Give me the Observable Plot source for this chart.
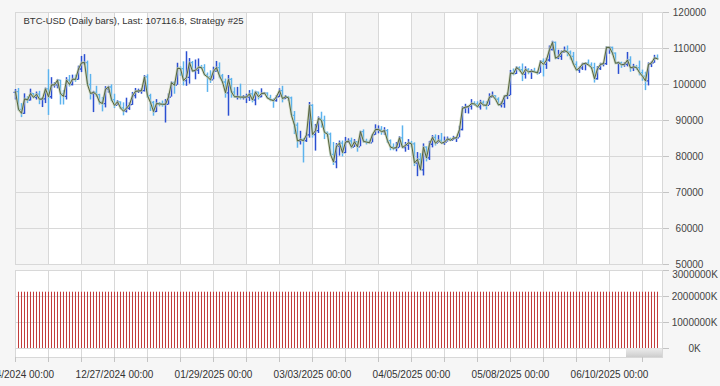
<!DOCTYPE html>
<html><head><meta charset="utf-8">
<script src="https://cdn.jsdelivr.net/npm/d3@7"></script>
<script src="https://cdn.jsdelivr.net/npm/@observablehq/plot@0.6"></script>
<style>
html,body{margin:0;padding:0;background:#f6f6f6;overflow:hidden}
#chart{position:relative;width:720px;height:386px;overflow:hidden;background:#f6f6f6}
#chart svg{position:absolute;left:0;top:0}
</style></head><body><div id="chart"></div>
<script>
const title = "BTC-USD (Daily bars), Last: 107116.8, Strategy #25";
const startDate = "2024-11-24"; // first daily bar
// OHLC in thousands of USD, one value per day from 2024-11-24 to 2025-06-26
const opens = [
 97.8,98.0,93.1,92.0,96.0,95.7,97.5,
 96.4,97.3,95.9,96.0,98.8,96.6,99.9,99.9,101.2,97.4,96.7,101.2,100.0,101.5,101.4,104.3,106.0,106.1,100.0,97.5,97.8,97.2,95.1,94.7,98.7,99.3,95.8,94.2,95.2,93.5,92.6,
 93.4,94.4,96.9,98.1,98.2,98.3,102.1,96.9,95.0,92.5,94.7,94.6,94.5,94.5,96.5,100.5,99.8,104.5,104.4,101.1,102.0,106.1,103.7,104.0,104.8,104.7,102.7,102.1,101.3,103.7,104.7,
 102.4,100.7,97.7,101.4,97.9,96.6,96.6,96.5,96.5,96.5,97.4,95.7,97.9,96.6,97.5,97.6,96.2,95.8,95.5,96.6,98.3,96.1,96.6,96.3,91.4,88.7,84.3,84.7,
 84.4,86.0,94.2,86.1,87.2,90.6,90.0,86.7,86.2,80.6,78.5,82.9,83.7,81.1,84.0,84.3,82.6,84.1,82.7,86.9,84.2,84.0,83.8,86.1,87.5,87.5,86.9,87.2,84.4,82.6,82.3,
 82.5,85.2,82.5,83.1,83.8,83.5,78.2,79.2,76.3,82.6,79.6,83.4,85.3,83.7,84.5,83.7,84.0,84.9,84.5,85.1,85.2,87.5,93.4,93.7,93.9,94.7,94.6,93.8,95.0,94.3,
 94.2,96.5,96.9,95.9,94.3,94.7,96.8,97.0,103.2,103.0,104.7,104.1,102.8,104.2,103.5,103.7,103.5,103.2,106.4,105.6,106.8,109.7,111.7,107.3,107.8,109.0,109.4,109.0,107.8,105.6,104.0,
 104.6,105.7,105.9,105.4,104.7,101.6,104.4,105.6,105.8,110.3,110.3,108.7,105.9,106.1,105.5,105.6,106.8,104.6,104.9,104.7,103.3,102.3,101.0,105.6,106.0,107.4
];
const highs = [
 98.6,98.9,94.7,97.4,96.6,98.7,97.5,
 97.9,98.1,96.3,99.0,104.1,101.9,100.5,101.4,101.2,98.3,101.9,102.5,102.6,102.6,105.1,107.8,108.3,106.5,102.8,98.1,99.5,97.3,96.4,99.4,99.5,99.9,97.3,95.5,95.2,94.9,96.2,
 94.9,97.8,98.9,98.7,98.8,102.5,102.7,97.3,95.3,95.8,95.0,95.4,95.8,97.4,100.7,100.8,105.9,104.9,106.3,109.1,107.2,106.4,106.8,107.1,105.3,105.5,103.2,103.8,104.8,106.4,106.0,
 102.8,101.5,102.5,101.7,99.1,99.2,100.1,96.9,97.3,98.3,98.5,98.1,97.9,98.8,97.7,97.7,97.0,96.0,96.9,98.8,99.5,96.9,96.7,96.5,92.5,89.3,87.0,85.0,
 86.5,95.0,94.4,88.9,91.0,92.3,91.2,86.8,86.5,83.9,83.6,84.3,84.3,85.3,84.9,85.1,84.7,84.1,87.0,87.4,84.8,84.5,86.1,88.8,88.5,88.3,88.0,87.5,84.6,83.5,83.9,
 85.5,88.5,83.9,84.7,84.2,83.8,81.1,80.8,83.5,82.7,84.2,85.8,86.0,85.8,86.4,85.4,85.4,85.1,85.6,85.3,88.4,93.8,94.5,94.0,95.8,95.2,95.2,95.6,95.4,95.2,
 97.4,97.9,96.9,96.3,95.2,96.9,97.6,103.9,104.3,104.9,104.9,105.7,104.9,104.4,104.1,104.5,103.7,106.6,107.1,107.3,110.7,112.0,111.8,109.5,109.3,110.4,110.7,109.3,108.9,106.3,104.9,
 105.9,105.9,106.8,106.0,105.9,105.0,105.9,106.0,110.5,110.4,110.4,108.8,106.2,106.2,106.1,108.9,107.7,105.6,105.3,106.5,104.0,103.4,106.0,106.3,108.1,108.2
];
const lows = [
 95.7,92.6,90.8,91.7,94.7,95.4,96.1,
 95.7,94.4,93.6,94.7,91.4,95.9,99.0,98.8,94.3,94.3,95.7,99.3,99.6,100.6,101.2,103.3,105.3,100.0,95.7,92.2,96.4,94.3,92.4,93.5,97.6,95.2,93.3,94.1,93.0,91.3,92.1,
 92.8,94.2,96.0,97.5,97.3,97.9,96.1,92.5,91.2,92.2,93.8,93.7,89.3,94.3,96.5,97.3,99.8,102.3,99.6,99.5,100.1,103.4,101.3,102.8,104.1,102.5,97.8,100.3,101.3,103.4,101.6,
 100.3,96.2,91.2,96.2,96.2,95.7,95.7,95.7,94.7,95.3,94.9,94.1,95.7,96.3,97.2,96.1,95.2,93.4,95.1,96.4,94.9,95.8,95.3,91.4,86.1,82.3,83.2,78.2,
 83.9,85.1,85.1,81.5,86.4,87.9,84.7,85.3,80.1,77.5,76.6,80.1,79.9,80.8,83.7,82.1,82.5,81.2,82.7,83.7,83.2,83.7,83.8,85.9,86.3,85.9,85.9,83.6,81.6,81.6,81.3,
 82.4,82.3,81.2,81.7,82.4,77.2,74.4,76.2,74.6,78.5,78.9,82.4,82.9,83.7,83.6,83.1,84.0,84.3,84.4,83.9,85.2,87.1,91.9,91.8,92.9,93.9,93.6,92.9,93.8,92.9,
 94.2,96.3,95.7,94.2,93.5,93.4,95.8,96.9,102.4,102.8,103.4,100.8,101.5,102.7,101.4,103.2,102.6,103.1,102.1,104.2,106.2,109.3,106.9,106.9,106.7,108.7,107.7,106.8,105.4,103.7,103.1,
 103.9,103.8,105.2,104.2,100.4,101.2,103.9,104.9,105.3,108.4,108.1,105.7,102.8,104.5,104.8,104.9,103.4,103.6,103.9,102.4,100.9,98.3,99.6,104.7,105.9,106.9
];
const closes = [
 98.0,93.1,92.0,96.0,95.7,97.5,96.4,
 97.3,95.9,96.0,98.8,96.6,99.9,99.9,101.2,97.4,96.7,101.2,100.0,101.5,101.4,104.3,106.0,106.1,100.0,97.5,97.8,97.2,95.1,94.7,98.7,99.3,95.8,94.2,95.2,93.5,92.6,93.4,
 94.4,96.9,98.1,98.2,98.3,102.1,96.9,95.0,92.5,94.7,94.6,94.5,94.5,96.5,100.5,99.8,104.5,104.4,101.1,102.0,106.1,103.7,104.0,104.8,104.7,102.7,102.1,101.3,103.7,104.7,102.4,
 100.7,97.7,101.4,97.9,96.6,96.6,96.5,96.5,96.5,97.4,95.7,97.9,96.6,97.5,97.6,96.2,95.8,95.5,96.6,98.3,96.1,96.6,96.3,91.4,88.7,84.3,84.7,84.4,
 86.0,94.2,86.1,87.2,90.6,90.0,86.7,86.2,80.6,78.5,82.9,83.7,81.1,84.0,84.3,82.6,84.1,82.7,86.9,84.2,84.0,83.8,86.1,87.5,87.5,86.9,87.2,84.4,82.6,82.3,82.5,
 85.2,82.5,83.1,83.8,83.5,78.2,79.2,76.3,82.6,79.6,83.4,85.3,83.7,84.5,83.7,84.0,84.9,84.5,85.1,85.2,87.5,93.4,93.7,93.9,94.7,94.6,93.8,95.0,94.3,94.2,
 96.5,96.9,95.9,94.3,94.7,96.8,97.0,103.2,103.0,104.7,104.1,102.8,104.2,103.5,103.7,103.5,103.2,106.4,105.6,106.8,109.7,111.7,107.3,107.8,109.0,109.4,109.0,107.8,105.6,104.0,104.6,
 105.7,105.9,105.4,104.7,101.6,104.4,105.6,105.8,110.3,110.3,108.7,105.9,106.1,105.5,105.6,106.8,104.6,104.9,104.7,103.3,102.3,101.0,105.6,106.0,107.4,107.1168
];
// volume in K (every bar reads the same height)
const volumeK = [
 2165000,2165000,2165000,2165000,2165000,2165000,2165000,2165000,2165000,2165000,
 2165000,2165000,2165000,2165000,2165000,2165000,2165000,2165000,2165000,2165000,
 2165000,2165000,2165000,2165000,2165000,2165000,2165000,2165000,2165000,2165000,
 2165000,2165000,2165000,2165000,2165000,2165000,2165000,2165000,2165000,2165000,
 2165000,2165000,2165000,2165000,2165000,2165000,2165000,2165000,2165000,2165000,
 2165000,2165000,2165000,2165000,2165000,2165000,2165000,2165000,2165000,2165000,
 2165000,2165000,2165000,2165000,2165000,2165000,2165000,2165000,2165000,2165000,
 2165000,2165000,2165000,2165000,2165000,2165000,2165000,2165000,2165000,2165000,
 2165000,2165000,2165000,2165000,2165000,2165000,2165000,2165000,2165000,2165000,
 2165000,2165000,2165000,2165000,2165000,2165000,2165000,2165000,2165000,2165000,
 2165000,2165000,2165000,2165000,2165000,2165000,2165000,2165000,2165000,2165000,
 2165000,2165000,2165000,2165000,2165000,2165000,2165000,2165000,2165000,2165000,
 2165000,2165000,2165000,2165000,2165000,2165000,2165000,2165000,2165000,2165000,
 2165000,2165000,2165000,2165000,2165000,2165000,2165000,2165000,2165000,2165000,
 2165000,2165000,2165000,2165000,2165000,2165000,2165000,2165000,2165000,2165000,
 2165000,2165000,2165000,2165000,2165000,2165000,2165000,2165000,2165000,2165000,
 2165000,2165000,2165000,2165000,2165000,2165000,2165000,2165000,2165000,2165000,
 2165000,2165000,2165000,2165000,2165000,2165000,2165000,2165000,2165000,2165000,
 2165000,2165000,2165000,2165000,2165000,2165000,2165000,2165000,2165000,2165000,
 2165000,2165000,2165000,2165000,2165000,2165000,2165000,2165000,2165000,2165000,
 2165000,2165000,2165000,2165000,2165000,2165000,2165000,2165000,2165000,2165000,
 2165000,2165000,2165000,2165000,2165000
];
const priceTicks = [50000,60000,70000,80000,90000,100000,110000,120000];
const volumeTicks = [0,1000000,2000000,3000000];
const gridDates = ["2024-11-24","2024-12-05","2024-12-16","2024-12-27","2025-01-07","2025-01-18","2025-01-29","2025-02-09","2025-02-20","2025-03-03","2025-03-14","2025-03-25","2025-04-05","2025-04-16","2025-04-27","2025-05-08","2025-05-19","2025-05-30","2025-06-10","2025-06-21"];
const labelDates = ["2024-11-24","2024-12-27","2025-01-29","2025-03-03","2025-04-05","2025-05-08","2025-06-10"];

const UP = "#2b4fd2", DOWN = "#5cb3ee", VOL = "#c23a3a", GRID = "#d8d8d8", TICK = "#c4c4c4";
const DAY = 864e5, HALF = DAY / 2;
const utc = s => new Date(s + "T00:00:00Z");
const t0 = utc(startDate);
const bars = closes.map((c, i) => ({
  date: new Date(+t0 + i * DAY),
  open: opens[i] * 1000, high: highs[i] * 1000, low: lows[i] * 1000, close: c * 1000,
  vol: volumeK[i]
}));
const grid = gridDates.map(utc);
const shade = grid.filter((d, i) => i % 2 === 0);
const labels = labelDates.map(utc);
const xDomain = [t0, new Date(+t0 + 215.67 * DAY)];
const col = d => d.close >= d.open ? UP : DOWN;
const font = "'Liberation Sans', Arial, sans-serif";
const common = {width: 720, height: 386, marginLeft: 15, marginRight: 58,
  style: {background: "transparent", fontFamily: font, fontSize: "10px"}};

const price = Plot.plot({
  ...common, marginTop: 12, marginBottom: 122,
  x: {type: "utc", domain: xDomain, axis: null},
  y: {domain: [50000, 120000]},
  marks: [
    Plot.frame({fill: "white", stroke: null}),
    Plot.rect(shade, {x1: d => d, x2: d => new Date(+d + 11 * DAY), y1: 50000, y2: 120000, fill: "#f5f5f5"}),
    Plot.gridX(grid, {stroke: GRID, strokeOpacity: 1}),
    Plot.gridY(priceTicks, {stroke: GRID, strokeOpacity: 1}),
    Plot.frame({stroke: GRID}),
    Plot.ruleX(bars, {x: "date", y1: "low", y2: "high", stroke: col, strokeWidth: 1.5}),
    Plot.ruleY(bars, {y: "open", x1: d => new Date(+d.date - HALF), x2: "date", stroke: col, strokeWidth: 1.3}),
    Plot.ruleY(bars, {y: "close", x1: "date", x2: d => new Date(+d.date + HALF), stroke: col, strokeWidth: 1.3}),
    Plot.lineY(bars, {x: "date", y: "close", stroke: "#c3cfac", strokeWidth: 2.6, strokeOpacity: 0.7}),
    Plot.lineY(bars, {x: "date", y: "close", stroke: "#56633d", strokeWidth: 1}),
    Plot.text([title], {frameAnchor: "top-left", dx: 8, dy: 8, lineAnchor: "middle", textAnchor: "start", fill: "#333", fontSize: 9.5}),
    Plot.axisY(priceTicks, {anchor: "right", tickSize: 6, tickPadding: 21, textAnchor: "middle", tickFormat: d => String(d), stroke: TICK, fill: "#444", label: null})
  ]
});

const volume = Plot.plot({
  ...common, marginTop: 270, marginBottom: 29,
  x: {type: "utc", domain: xDomain},
  y: {domain: [-346154, 3000000]},
  marks: [
    Plot.frame({fill: "white", stroke: null}),
    Plot.gridX(grid, {stroke: GRID, strokeOpacity: 1}),
    Plot.gridY(volumeTicks, {stroke: GRID, strokeOpacity: 1}),
    Plot.ruleX(bars, {x: "date", y1: 0, y2: "vol", stroke: VOL, strokeWidth: 1}),
    Plot.frame({stroke: GRID}),
    Plot.axisY(volumeTicks, {anchor: "right", tickSize: 6, tickPadding: 26, textAnchor: "middle",
      tickFormat: d => d === 3000000 ? "" : d + "K", stroke: TICK, fill: "#444", label: null}),
    Plot.axisY([3000000], {anchor: "right", tickSize: 0, tickPadding: 32.5, textAnchor: "middle", dy: 4,
      tickFormat: d => d + "K", fill: "#444", label: null}),
    Plot.axisX(grid, {anchor: "bottom", tickSize: 5, tickFormat: () => "", stroke: TICK, label: null}),
    Plot.axisX(labels, {anchor: "bottom", tickSize: 0, tickPadding: 13, tickFormat: d3.utcFormat("%m/%d/%Y %H:%M"), fill: "#333", label: null})
  ]
});

const root = document.getElementById("chart");
root.appendChild(price);
root.appendChild(volume);

// scrollbar thumb under the volume pane
const svg = d3.select(volume);
const grad = svg.append("defs").append("linearGradient").attr("id", "thumb").attr("x1", 0).attr("y1", 0).attr("x2", 0).attr("y2", 1);
grad.append("stop").attr("offset", 0).attr("stop-color", "#ececec");
grad.append("stop").attr("offset", 1).attr("stop-color", "#cdcdcd");
svg.append("rect").attr("x", 626).attr("y", 348.5).attr("width", 36).attr("height", 8.5).attr("fill", "url(#thumb)");
</script></body></html>
